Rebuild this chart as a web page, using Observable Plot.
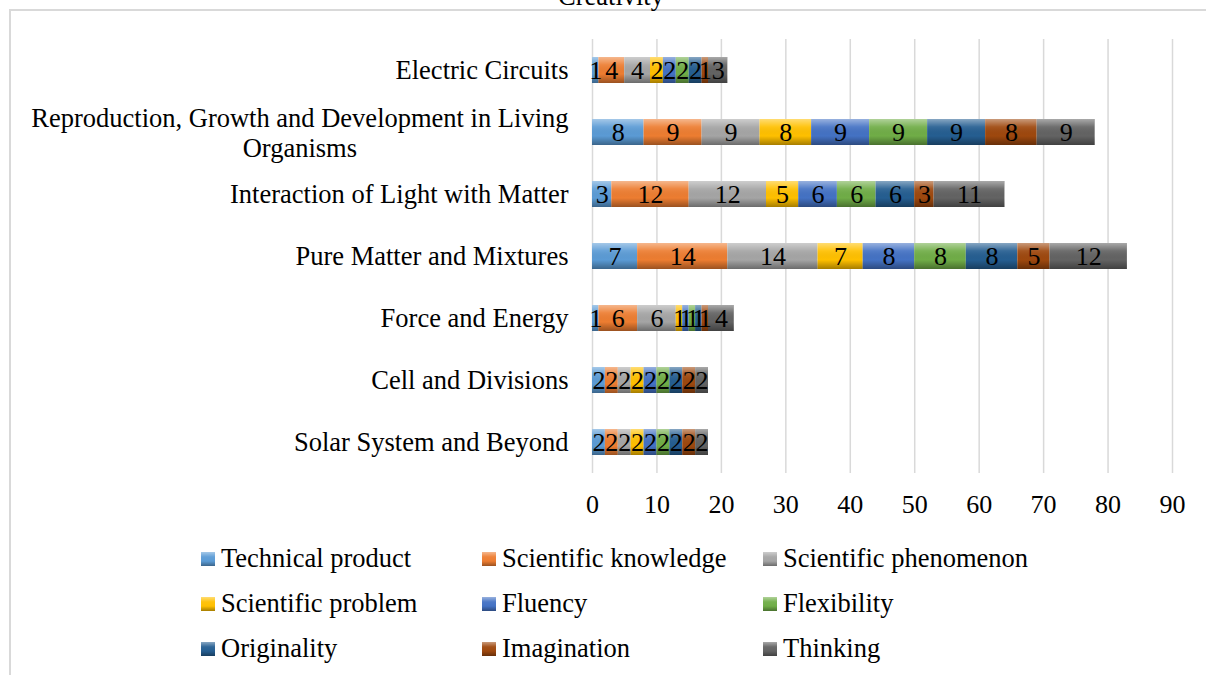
<!DOCTYPE html>
<html>
<head>
<meta charset="utf-8">
<script src="https://cdn.jsdelivr.net/npm/d3@7"></script>
<script src="https://cdn.jsdelivr.net/npm/@observablehq/plot@0.6"></script>
<style>
  html, body { margin: 0; padding: 0; background: #fff; overflow: hidden; }
  #wrap { position: relative; width: 1206px; height: 675px; overflow: hidden; font-family: "Liberation Serif", "Times New Roman", serif; }
  #frame { position: absolute; left: 9px; top: 9px; width: 1220px; height: 700px; border: 2px solid #d9d9d9; box-sizing: border-box; }
  #title { position: absolute; left: 0; width: 1222px; top: -17px; text-align: center; font-size: 26.5px; line-height: 26.5px; color: #000; }
  #chart { position: absolute; left: 0; top: 0; }
  #legend { position: absolute; left: 201px; top: 536px; display: grid; grid-template-columns: 281px 281px 281px; grid-auto-rows: 45px; }
  .item { display: flex; align-items: center; font-size: 26.5px; color: #000; white-space: nowrap; }
  .sw { width: 14px; height: 14px; margin-right: 6px; box-sizing: border-box; position: relative; }
  .sw::after { content: ""; position: absolute; inset: 0; background: linear-gradient(to bottom, rgba(255,255,255,0.45), rgba(255,255,255,0.05) 35%, rgba(0,0,0,0) 65%, rgba(0,0,0,0.35)); }
</style>
</head>
<body>
<div id="wrap">
  <div id="frame"></div>
  <div id="title">Creativity</div>
  <div id="chart"></div>
  <div id="legend"></div>
</div>
<script>
const categories = [
  "Electric Circuits",
  "Reproduction, Growth and Development in Living\nOrganisms",
  "Interaction of Light with Matter",
  "Pure Matter and Mixtures",
  "Force and Energy",
  "Cell and Divisions",
  "Solar System and Beyond"
];
const seriesNames = [
  "Technical product", "Scientific knowledge", "Scientific phenomenon",
  "Scientific problem", "Fluency", "Flexibility",
  "Originality", "Imagination", "Thinking"
];
const seriesColors = ["#5B9BD5", "#ED7D31", "#A5A5A5", "#FFC000", "#4472C4", "#70AD47", "#255E91", "#9E480E", "#636363"];

// values per series, in category order (top to bottom)
const technicalProduct     = [1, 8, 3, 7, 1, 2, 2];
const scientificKnowledge  = [4, 9, 12, 14, 6, 2, 2];
const scientificPhenomenon = [4, 9, 12, 14, 6, 2, 2];
const scientificProblem    = [2, 8, 5, 7, 1, 2, 2];
const fluency              = [2, 9, 6, 8, 1, 2, 2];
const flexibility          = [2, 9, 6, 8, 1, 2, 2];
const originality          = [2, 9, 6, 8, 1, 2, 2];
const imagination          = [1, 8, 3, 5, 1, 2, 2];
const thinking             = [3, 9, 11, 12, 4, 2, 2];
const xTicks = [0, 10, 20, 30, 40, 50, 60, 70, 80, 90];

const seriesValues = [technicalProduct, scientificKnowledge, scientificPhenomenon, scientificProblem,
  fluency, flexibility, originality, imagination, thinking];

const data = [];
categories.forEach((c, ci) => {
  seriesNames.forEach((s, si) => {
    data.push({category: c, series: s, value: seriesValues[si][ci]});
  });
});

const FS = 26.5;
const labelFont = `${FS}px 'Liberation Serif'`;
const multi = categories.filter(c => c.includes("\n"));
const single = categories.filter(c => !c.includes("\n"));
const ctx = document.createElement("canvas").getContext("2d");
ctx.font = labelFont;
const firstLineWidth = multi.length ? ctx.measureText(multi[0].split("\n")[0]).width : 0;

const chart = Plot.plot({
  width: 1206,
  height: 530,
  marginLeft: 592,
  marginRight: 34,
  marginTop: 39,
  marginBottom: 57,
  style: {fontFamily: "'Liberation Serif', 'Times New Roman', serif", fontSize: `${FS}px`, color: "#000", background: "transparent"},
  x: {domain: [0, 90], ticks: xTicks},
  y: {domain: categories, paddingInner: 0.58, paddingOuter: 0.29, axis: null},
  color: {domain: seriesNames, range: seriesColors},
  marks: [
    Plot.gridX(xTicks, {stroke: "#d9d9d9", strokeOpacity: 1, strokeWidth: 1.5}),
    Plot.axisX({ticks: xTicks, tickSize: 0, tickPadding: 21, fontSize: 26, label: null}),
    Plot.barX(data, Plot.stackX({x: "value", y: "category", fill: "series", order: seriesNames})),
    Plot.barX(data, Plot.stackX({x: "value", y: "category", z: "series", fill: "url(#bevel)", order: seriesNames})),
    Plot.text(data, Plot.stackX({x: "value", y: "category", z: "series", text: "value", order: seriesNames, fill: "#000", fontSize: 26})),
    Plot.text(single, {x: 0, y: d => d, text: d => d, textAnchor: "end", dx: -24, fontSize: FS, fill: "#000"}),
    Plot.text(multi, {x: 0, y: d => d, text: d => d, textAnchor: "middle", dx: -24 - firstLineWidth / 2, lineHeight: 1.15, fontSize: FS, fill: "#000"})
  ]
});

const ns = "http://www.w3.org/2000/svg";
const defs = document.createElementNS(ns, "defs");
defs.innerHTML = `<linearGradient id="bevel" x1="0" y1="0" x2="0" y2="1">
  <stop offset="0" stop-color="#fff" stop-opacity="0.45"/>
  <stop offset="0.3" stop-color="#fff" stop-opacity="0.08"/>
  <stop offset="0.65" stop-color="#000" stop-opacity="0"/>
  <stop offset="1" stop-color="#000" stop-opacity="0.35"/>
</linearGradient>`;
chart.insertBefore(defs, chart.firstChild);
document.getElementById("chart").appendChild(chart);

const legend = document.getElementById("legend");
seriesNames.forEach((s, i) => {
  const item = document.createElement("div");
  item.className = "item";
  const sw = document.createElement("span");
  sw.className = "sw";
  sw.style.background = seriesColors[i];
  const t = document.createElement("span");
  t.textContent = s;
  item.appendChild(sw);
  item.appendChild(t);
  legend.appendChild(item);
});
</script>
</body>
</html>
